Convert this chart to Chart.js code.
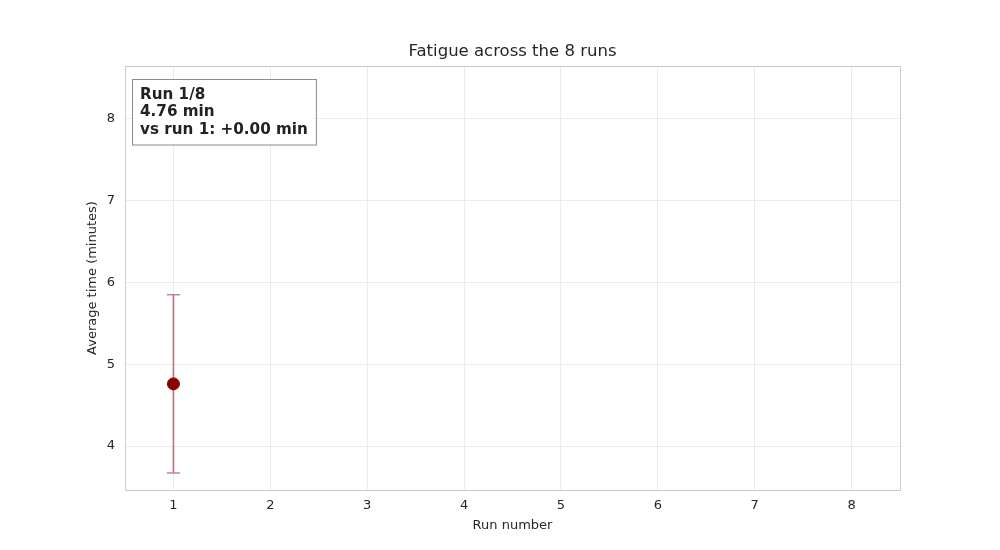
<!DOCTYPE html>
<html>
<head>
<meta charset="utf-8">
<script src="https://cdn.jsdelivr.net/npm/chart.js@4"></script>
<style>
  html, body { margin: 0; padding: 0; background: #fff; }
  #wrap { width: 1000px; height: 550px; }
</style>
</head>
<body>
<div id="wrap"><canvas id="chart"></canvas></div>
<script>
// data
const runs = [1];
const avgTimes = [4.76];
const errLow = [3.67];
const errHigh = [5.85];
const totalRuns = 8;
const xTicks = [1, 2, 3, 4, 5, 6, 7, 8];
const yTicks = [4, 5, 6, 7, 8];

const FONT = "'DejaVu Sans', sans-serif";
const TEXT = "#262626";
const ERR = "#c0727a";

// error bar as a line dataset: stem + caps drawn as 'line' point style
const errData = [];
runs.forEach((r, i) => {
  errData.push({ x: r, y: errLow[i] });
  errData.push({ x: r, y: errHigh[i] });
  errData.push({ x: NaN, y: NaN });
});

const lastIdx = runs.length - 1;
const diff = avgTimes[lastIdx] - avgTimes[0];
const titleText = "Fatigue across the " + totalRuns + " runs";
const boxLines = [
  "Run " + runs[lastIdx] + "/" + totalRuns,
  avgTimes[lastIdx].toFixed(2) + " min",
  "vs run 1: " + (diff >= 0 ? "+" : "") + diff.toFixed(2) + " min"
];

const frameAndBox = {
  id: "frameAndBox",
  afterDraw(chart) {
    const { ctx, chartArea: a } = chart;
    ctx.save();
    ctx.strokeStyle = "#cccccc";
    ctx.lineWidth = 1;
    ctx.strokeRect(a.left + 0.5, a.top + 0.5, a.right - a.left, a.bottom - a.top);

    // title centred over the plot area
    ctx.fillStyle = TEXT;
    ctx.font = "16.5px " + FONT;
    ctx.textAlign = "center";
    ctx.textBaseline = "middle";
    ctx.fillText(titleText, (a.left + a.right) / 2, 52);

    // info box in the top-left corner
    ctx.textAlign = "left";
    ctx.font = "bold 15.2px " + FONT;
    let w = 0;
    boxLines.forEach(t => { w = Math.max(w, ctx.measureText(t).width); });
    const bx = a.left + 7, by = a.top + 13, pad = 8, lh = 17.5;
    const bw = w + pad * 2, bh = lh * boxLines.length + 13;
    ctx.fillStyle = "#ffffff";
    ctx.fillRect(bx, by, bw, bh);
    ctx.strokeStyle = "#8a8a8a";
    ctx.strokeRect(bx + 0.5, by + 0.5, bw, bh);
    ctx.fillStyle = "#222222";
    boxLines.forEach((t, i) => ctx.fillText(t, bx + pad, by + 16 + i * lh));
    ctx.restore();
  }
};

new Chart(document.getElementById("chart"), {
  type: "scatter",
  data: {
    datasets: [
      {
        type: "line",
        order: 2,
        data: errData,
        borderColor: ERR,
        borderWidth: 1.6,
        pointStyle: "line",
        pointRadius: 6.5,
        pointBorderWidth: 1.3,
        pointBorderColor: ERR,
        spanGaps: false,
        fill: false
      },
      {
        order: 1,
        data: runs.map((r, i) => ({ x: r, y: avgTimes[i] })),
        backgroundColor: "#8b0000",
        borderColor: "#8b0000",
        pointRadius: 6,
        pointHoverRadius: 6
      }
    ]
  },
  options: {
    responsive: true,
    maintainAspectRatio: false,
    animation: false,
    layout: { padding: { left: 85, right: 100, top: 66, bottom: 17 } },
    plugins: {
      legend: { display: false },
      tooltip: { enabled: false },
      title: { display: false }
    },
    scales: {
      x: {
        type: "linear",
        min: 0.5,
        max: 8.5,
        afterBuildTicks: s => { s.ticks = xTicks.map(v => ({ value: v })); },
        afterFit: s => { s.height = 43; },
        grid: { color: "#ebebeb", drawTicks: false },
        border: { color: "#cccccc" },
        ticks: { color: TEXT, font: { family: FONT, size: 13 }, padding: 8 },
        title: {
          display: true,
          text: "Run number",
          color: TEXT,
          font: { family: FONT, size: 13 },
          padding: 0
        }
      },
      y: {
        type: "linear",
        min: 3.462,
        max: 8.648,
        afterBuildTicks: s => { s.ticks = yTicks.map(v => ({ value: v })); },
        afterFit: s => { s.width = 40; },
        grid: { color: "#ebebeb", drawTicks: false },
        border: { color: "#cccccc" },
        ticks: { color: TEXT, font: { family: FONT, size: 13 }, padding: 10 },
        title: {
          display: true,
          text: "Average time (minutes)",
          color: TEXT,
          font: { family: FONT, size: 13 },
          padding: 0
        }
      }
    }
  },
  plugins: [frameAndBox]
});
</script>
</body>
</html>
